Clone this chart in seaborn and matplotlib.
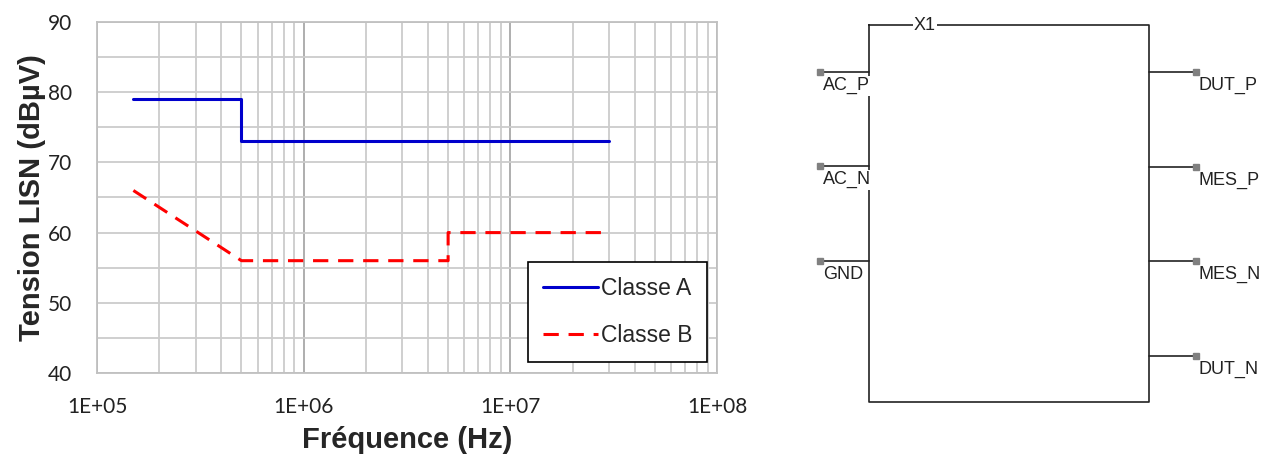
import numpy as np
import pandas as pd
import matplotlib
matplotlib.use('Agg')
import matplotlib.pyplot as plt
from matplotlib.ticker import LogLocator, MultipleLocator, NullFormatter
import seaborn as sns

# limites CEM (CISPR) - frequence en Hz, niveau en dBuV
freq_a = [150e3, 500e3, 500e3, 30e6]
level_a = [79, 79, 73, 73]
freq_b = [150e3, 500e3, 5e6, 5e6, 30e6]
level_b = [66, 56, 56, 60, 60]
x_ticks = [1e5, 1e6, 1e7, 1e8]
x_labels = ['1E+05', '1E+06', '1E+07', '1E+08']

# schema du bloc X1
left_pins = ['AC_P', 'AC_N', 'GND']
right_pins = ['DUT_P', 'MES_P', 'MES_N', 'DUT_N']

sns.set_theme(style='white')
plt.rcParams['font.family'] = ['Liberation Sans', 'DejaVu Sans']

fig = plt.figure(figsize=(12.66, 4.55), dpi=100)
ax = fig.add_axes([97 / 1266, 1 - 373 / 455, 620 / 1266, 351 / 455])

df = pd.concat([
    pd.DataFrame({'f': freq_a, 'v': level_a, 'classe': 'Classe A'}),
    pd.DataFrame({'f': freq_b, 'v': level_b, 'classe': 'Classe B'}),
])
sns.lineplot(data=df[df.classe == 'Classe A'], x='f', y='v', ax=ax, sort=False,
             estimator=None, color='#0000cc', lw=2.2, label='Classe A')
sns.lineplot(data=df[df.classe == 'Classe B'], x='f', y='v', ax=ax, sort=False,
             estimator=None, color='#ff0000', lw=2.2, label='Classe B')
ax.lines[1].set_dashes([5, 3.2])

ax.set_xscale('log')
ax.set_xlim(1e5, 1e8)
ax.set_ylim(40, 90)
ax.set_xticks(x_ticks)
ax.set_xticklabels(x_labels)
ax.xaxis.set_minor_locator(LogLocator(base=10, subs=np.arange(2, 10)))
ax.xaxis.set_minor_formatter(NullFormatter())
ax.yaxis.set_major_locator(MultipleLocator(10))
ax.yaxis.set_minor_locator(MultipleLocator(5))
ax.grid(True, which='major', axis='x', color='#a8a8a8', lw=1.3)
ax.grid(True, which='minor', axis='x', color='#cccccc', lw=1.3)
ax.grid(True, which='both', axis='y', color='#cccccc', lw=1.3)
ax.set_axisbelow(True)
ax.tick_params(which='both', length=0)
ax.tick_params(axis='x', pad=17)
ax.tick_params(axis='y', pad=18)
for lab in ax.get_xticklabels() + ax.get_yticklabels():
    lab.set_fontfamily(['Lato', 'DejaVu Sans'])
    lab.set_fontsize(15)
    lab.set_color('#222222')
for sp in ax.spines.values():
    sp.set_color('#c0c0c0')
    sp.set_linewidth(1.3)

ax.set_xlabel('Fréquence (Hz)', fontsize=21, fontweight='bold')
ax.xaxis.set_label_coords(0.5, -0.15)
ax.set_ylabel('Tension LISN (dBµV)', fontsize=21, fontweight='bold')
ax.yaxis.set_label_coords(-0.083, 0.5)

leg = ax.legend(loc='lower right', bbox_to_anchor=(0.984, 0.031), borderaxespad=0,
                fontsize=16.5, frameon=True, fancybox=False, framealpha=1,
                edgecolor='black', labelspacing=1.05, handlelength=2.4,
                handletextpad=0.1, borderpad=0.65)
leg.get_frame().set_linewidth(1.2)

# bloc schematique a droite, en coordonnees pixels
sc = fig.add_axes([0, 0, 1, 1])
sc.set_xlim(0, 1266)
sc.set_ylim(455, 0)
sc.axis('off')
sc.patch.set_alpha(0)

bx0, bx1, by0, by1 = 869, 1149, 25, 402
sc.plot([bx0, bx1, bx1, bx0, bx0], [by0, by0, by1, by1, by0], color='#222222', lw=1.2, zorder=1)
sc.text(925, by0, 'X1', fontsize=13, ha='center', va='center', color='#222222',
        bbox=dict(facecolor='white', edgecolor='none', pad=1), zorder=3)

left_y = [72, 166, 261]
for name, y in zip(left_pins, left_y):
    sc.plot([820, bx0], [y, y], color='#222222', lw=1.2, zorder=1)
    sc.plot(820, y, marker='s', ms=5, color='#808080', zorder=4)
    sc.text(823, y + 5, name, fontsize=13, ha='left', va='top', color='#222222',
            bbox=dict(facecolor='white', edgecolor='none', pad=1), zorder=3)

right_y = [72, 167, 261, 356]
for name, y in zip(right_pins, right_y):
    sc.plot([bx1, 1196], [y, y], color='#222222', lw=1.2, zorder=1)
    sc.plot(1196, y, marker='s', ms=5, color='#808080', zorder=4)
    sc.text(1198, y + 5, name, fontsize=13, ha='left', va='top', color='#222222',
            bbox=dict(facecolor='white', edgecolor='none', pad=1), zorder=3)

fig.savefig('out.png', dpi=100)
